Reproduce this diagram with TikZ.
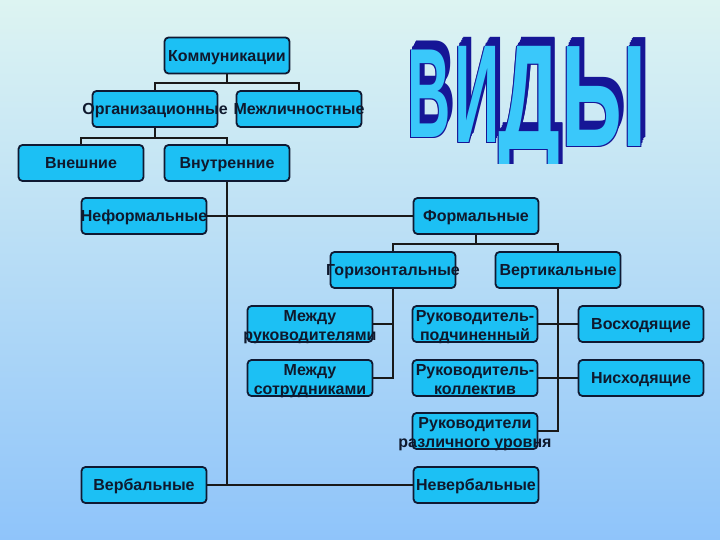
\documentclass[tikz,border=0pt]{standalone}
\usepackage{fontspec}
\setmainfont{Liberation Sans}
\definecolor{bgtop}{RGB}{221,244,242}
\definecolor{bgbot}{RGB}{143,196,250}
\definecolor{boxfill}{RGB}{28,192,244}
\definecolor{boxline}{RGB}{15,25,50}
\definecolor{txt}{RGB}{15,25,45}
\definecolor{waf}{RGB}{58,200,250}
\definecolor{wad}{RGB}{22,22,150}
\newcommand\two[2]{\raisebox{-7.5pt}[0pt][0pt]{\makebox[0pt]{\begin{tabular}{@{}c@{}}#1\\[0.5pt]#2\end{tabular}}}}
\newcommand\wshadow[6]{%
  \foreach \k in {6,5,...,1}{%
    \begin{scope}[shift={({#1+0.8*\k},{#2-1.6*\k})}]
      \node[wl,text=wad,xscale=#3,yscale=#4] (ws-#6-\k) {#5};
    \end{scope}}%
  \foreach \dx/\dy/\j in {-0.9/0.9/a,-0.9/-0.9/b,0.9/0.9/c}{%
    \begin{scope}[shift={({#1+\dx},{#2+\dy})}]
      \node[wl,text=wad,xscale=#3,yscale=#4] (wo-#6-\j) {#5};
    \end{scope}}}
\newcommand\wfront[6]{%
  \begin{scope}[shift={(#1,#2)}]
    \node[wl,text=waf,xscale=#3,yscale=#4] (wf-#6) {#5};
  \end{scope}}
\begin{document}
\begin{tikzpicture}[x=1pt,y=-1pt,
  box/.style={draw=boxline, line width=1.8pt, rounded corners=4pt, fill=boxfill,
    minimum width=125pt, minimum height=36pt, inner sep=0pt, text=txt,
    font=\fontsize{16}{18}\selectfont\bfseries},
  one/.style={text height=11.5pt, text depth=0pt},
  conn/.style={line width=2pt, draw=black!90},
  wl/.style={anchor=base, inner sep=0pt, transform shape,
    font=\fontsize{60}{60}\selectfont\bfseries}]
\useasboundingbox (0,0) rectangle (720,540);
\shade[top color=bgtop, bottom color=bgbot] (0,0) rectangle (720,540);

% boxes
\node[box,one] (kom) at (227,55.5) {Коммуникации};
\node[box,one] (org) at (155,109) {\makebox[0pt]{Организационные}};
\node[box,one] (mezh) at (299,109) {\makebox[0pt]{Межличностные}};
\node[box,one] (vnesh) at (81,163) {Внешние};
\node[box,one] (vnutr) at (227,163) {Внутренние};
\node[box,one] (neform) at (144,216) {\makebox[0pt]{Неформальные}};
\node[box,one] (form) at (476,216) {Формальные};
\node[box,one] (gor) at (393,270) {\makebox[0pt]{Горизонтальные}};
\node[box,one] (vert) at (558,270) {Вертикальные};
\node[box] (mr) at (310,324) {\two{Между}{руководителями}};
\node[box] (ms) at (310,378) {\two{Между}{сотрудниками}};
\node[box] (rp) at (475,324) {\two{Руководитель-}{подчиненный}};
\node[box] (rk) at (475,378) {\two{Руководитель-}{коллектив}};
\node[box] (rr) at (475,431) {\two{Руководители}{различного уровня}};
\node[box,one] (vos) at (641,324) {Восходящие};
\node[box,one] (nis) at (641,378) {Нисходящие};
\node[box,one] (verb) at (144,485) {Вербальные};
\node[box,one] (never) at (476,485) {\makebox[0pt]{Невербальные}};

% connectors
\draw[conn] (kom.south) -- ++(0,9) -| (org.north);
\draw[conn] (kom.south) -- ++(0,9) -| (mezh.north);
\draw[conn] (org.south) -- ++(0,10) -| (vnesh.north);
\draw[conn] (org.south) -- ++(0,10) -| (vnutr.north);
\draw[conn] (vnutr.south) -- (vnutr.south |- verb.east);
\draw[conn] (verb.east) -- (never.west);
\draw[conn] (neform.east) -- (form.west);
\draw[conn] (form.south) -- ++(0,9) -| (gor.north);
\draw[conn] (form.south) -- ++(0,9) -| (vert.north);
\draw[conn] (gor.south) -- (gor.south |- ms.east) -- (ms.east);
\draw[conn] (mr.east) -- (mr.east -| gor.south);
\draw[conn] (vert.south) -- (vert.south |- rr.east) -- (rr.east);
\draw[conn] (rp.east) -- (vos.west);
\draw[conn] (rk.east) -- (nis.west);

% word art
\begin{scope}
\clip (380,0) rectangle (700,164);
\wshadow{429}{138}{1.0}{2.12}{В}{b}
\wshadow{477}{143}{1.05}{2.33}{И}{i}
\wshadow{529}{150}{1.45}{2.5}{Д}{d}
\wshadow{604}{147}{1.45}{2.42}{Ы}{y}
\wfront{429}{138}{1.0}{2.12}{В}{b}
\wfront{477}{143}{1.05}{2.33}{И}{i}
\wfront{529}{150}{1.45}{2.5}{Д}{d}
\wfront{604}{147}{1.45}{2.42}{Ы}{y}
\end{scope}
\end{tikzpicture}
\end{document}
